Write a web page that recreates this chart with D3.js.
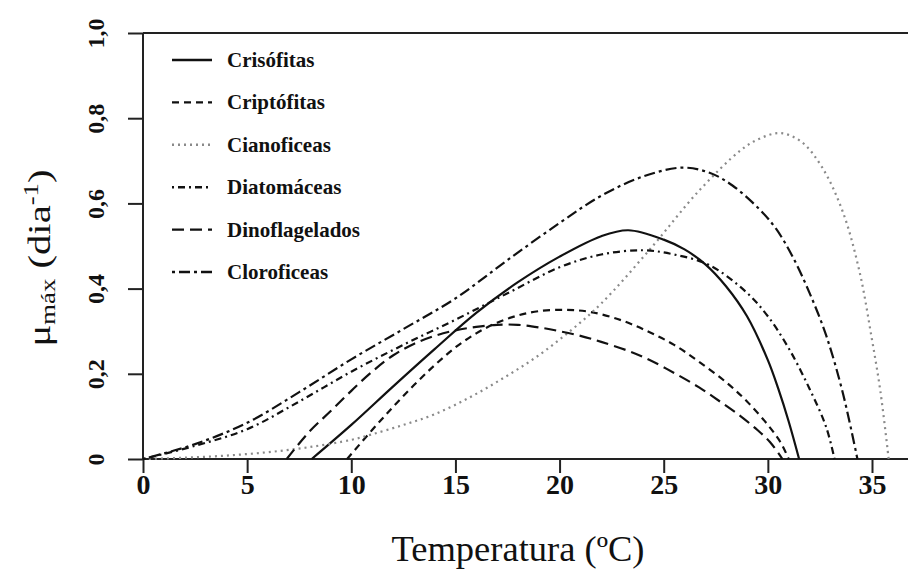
<!DOCTYPE html>
<html><head><meta charset="utf-8">
<script src="https://cdn.jsdelivr.net/npm/d3@7"></script>
<style>
html,body{margin:0;padding:0;background:#fff;}
svg{display:block;}
text{font-family:"Liberation Serif","Times New Roman",serif;fill:#111;}
</style></head>
<body><svg id="chart" width="908" height="575"></svg>
<script>
// ---- data ----
const seriesNames = ["Crisófitas","Criptófitas","Cianoficeas","Diatomáceas","Dinoflagelados","Cloroficeas"];

const crisT  = [8.1,10,12,14,16,18,20,22,23.3,25,26,27,28,29,30,30.5,31,31.5];
const crisMu = [0,0.08,0.17,0.258,0.343,0.415,0.475,0.523,0.537,0.515,0.492,0.457,0.405,0.335,0.232,0.165,0.088,0];

const cripT  = [9.8,11,12,13,14,15,16,17,18,19,20.3,21.5,23,24.3,25.5,26.7,28,29,30,30.6,31];
const cripMu = [0,0.068,0.122,0.173,0.22,0.262,0.295,0.32,0.337,0.347,0.35,0.345,0.325,0.298,0.268,0.228,0.18,0.135,0.08,0.04,0];

const cianT  = [0,2,4,6,8,10,11,12.5,14,15.7,17.3,18.9,20.5,22,24.3,26.7,28.7,29.6,30.6,31.6,32.6,33.6,34.4,35,35.4,35.8];
const cianMu = [0,0.003,0.008,0.016,0.028,0.045,0.058,0.08,0.105,0.145,0.19,0.24,0.3,0.365,0.49,0.63,0.725,0.752,0.765,0.745,0.685,0.58,0.44,0.28,0.16,0];

const diatT  = [0,2.5,5,7.5,10,12.5,15,17.5,20,22,24,25.5,27.2,29,30,31,32,32.8,33.2];
const diatMu = [0,0.031,0.07,0.135,0.205,0.268,0.327,0.389,0.45,0.48,0.49,0.48,0.455,0.39,0.335,0.26,0.165,0.075,0];

const dinoT  = [6.9,8,9,10,11,12,13,14,15,16,17,18,19,20,21,22,23.4,24.3,25.5,26.7,27.7,28.7,29.5,30.1,30.7];
const dinoMu = [0,0.065,0.112,0.16,0.205,0.243,0.27,0.289,0.302,0.31,0.315,0.315,0.309,0.3,0.289,0.275,0.252,0.233,0.202,0.168,0.135,0.1,0.068,0.04,0];

const cloroT  = [0,2.5,5,7.5,10,12.5,15,17.5,20,22,24,25.9,27.2,28.3,29.6,30.4,31.2,32,32.8,33.6,34.3];
const cloroMu = [0,0.035,0.085,0.157,0.234,0.305,0.377,0.467,0.554,0.618,0.663,0.684,0.672,0.642,0.586,0.54,0.474,0.39,0.29,0.155,0];

const xTicks = [0,5,10,15,20,25,30,35];
const yTicks = [0,0.2,0.4,0.6,0.8,1.0];

const seriesT  = [crisT,cripT,cianT,diatT,dinoT,cloroT];
const seriesMu = [crisMu,cripMu,cianMu,diatMu,dinoMu,cloroMu];

// ---- styles ----
const dashes = [null,"7,5","2,4","2,4,7,4","12,6","3,4,11,4"];
const colors = ["#111","#111","#8a8a8a","#111","#111","#111"];

const W = 908, H = 575;
const svg = d3.select("#chart");
const x = d3.scaleLinear().domain([0,35]).range([143,872]);
const y = d3.scaleLinear().domain([0,1]).range([459,33]);

const axisColor = "#222";
svg.append("line").attr("x1",x(0)).attr("x2",x(0)).attr("y1",y(1)).attr("y2",y(0))
  .attr("stroke",axisColor).attr("stroke-width",2);
svg.append("line").attr("x1",x(0)).attr("x2",W).attr("y1",y(0)).attr("y2",y(0))
  .attr("stroke",axisColor).attr("stroke-width",2);
svg.append("line").attr("x1",x(0)).attr("x2",W).attr("y1",y(1)).attr("y2",y(1))
  .attr("stroke",axisColor).attr("stroke-width",2);

// x axis
const gx = svg.append("g").attr("transform",`translate(0,${y(0)})`)
  .call(d3.axisBottom(x).tickValues(xTicks).tickSize(14).tickSizeOuter(0).tickFormat(d3.format("d")));
gx.select(".domain").remove();
gx.selectAll(".tick line").attr("stroke",axisColor).attr("stroke-width",2);
gx.selectAll(".tick text").attr("y",35).attr("dy",0).style("font-size","28px").style("font-weight","bold")
  .style("font-family",'"Liberation Serif","Times New Roman",serif').attr("fill","#111");

// y axis
const gy = svg.append("g").attr("transform",`translate(${x(0)},0)`)
  .call(d3.axisLeft(y).tickValues(yTicks).tickSize(15).tickSizeOuter(0)
    .tickFormat(d => d === 0 ? "0" : d3.format(".1f")(d).replace(".",",")));
gy.select(".domain").remove();
gy.selectAll(".tick line").attr("stroke",axisColor).attr("stroke-width",2);
gy.selectAll(".tick text")
  .attr("x",null).attr("dy",null).attr("y",null)
  .attr("text-anchor","middle")
  .attr("transform","translate(-39,0) rotate(-90)")
  .style("font-size","24px").style("font-weight","bold")
  .style("font-family",'"Liberation Serif","Times New Roman",serif').attr("fill","#111");

// curves
const line = d3.line().x(d => x(d[0])).y(d => y(d[1])).curve(d3.curveCatmullRom.alpha(0.5));
seriesNames.forEach((name,i) => {
  const pts = seriesT[i].map((t,j) => [t, seriesMu[i][j]]);
  svg.append("path").datum(pts).attr("d",line)
    .attr("fill","none").attr("stroke",colors[i]).attr("stroke-width",2.2)
    .attr("stroke-dasharray",dashes[i]);
});

// legend
const leg = svg.append("g");
seriesNames.forEach((name,i) => {
  const cy = 60 + i*42.4;
  leg.append("line").attr("x1",172).attr("x2",212).attr("y1",cy).attr("y2",cy)
    .attr("stroke",colors[i]).attr("stroke-width",2.4).attr("stroke-dasharray",dashes[i]);
  leg.append("text").attr("x",227).attr("y",cy+7).text(name)
    .style("font-size","21px").style("font-weight","bold");
});

// axis titles
svg.append("text").attr("x",518).attr("y",561).attr("text-anchor","middle")
  .attr("textLength",253).attr("lengthAdjust","spacingAndGlyphs")
  .style("font-size","35px").text("Temperatura (ºC)");

const yt = svg.append("text").attr("transform","translate(50,258) rotate(-90)")
  .attr("text-anchor","middle").attr("textLength",177).attr("lengthAdjust","spacingAndGlyphs")
  .style("font-size","32px");
yt.append("tspan").text("μ");
yt.append("tspan").attr("baseline-shift","-25%").style("font-size","21px").text("máx");
yt.append("tspan").text(" (dia");
yt.append("tspan").attr("baseline-shift","super").style("font-size","21px").text("-1");
yt.append("tspan").text(")");
</script></body></html>
